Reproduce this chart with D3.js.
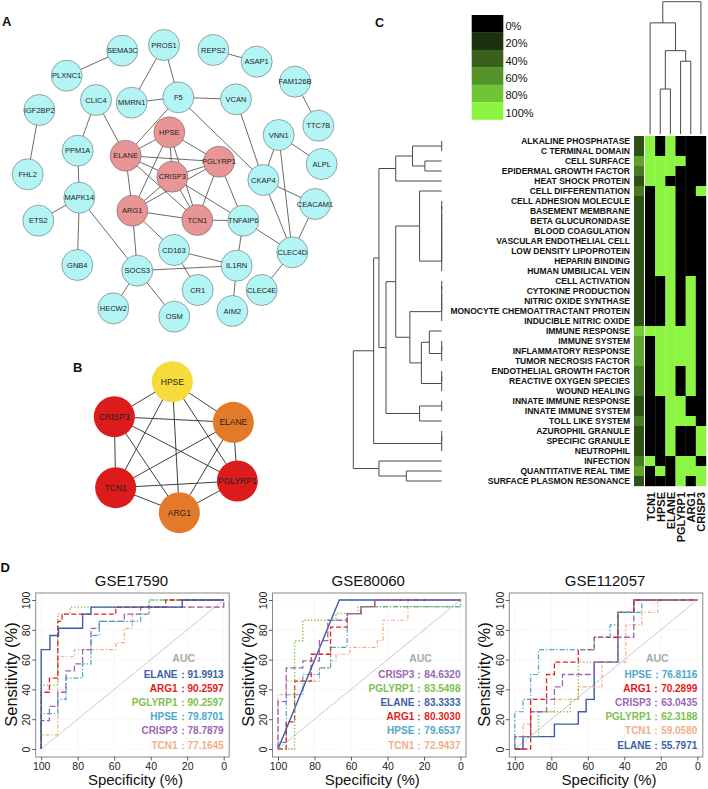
<!DOCTYPE html>
<html><head><meta charset="utf-8">
<script src="https://cdn.jsdelivr.net/npm/d3@7"></script>
<style>body{margin:0;background:#fff}svg{display:block}</style>
</head><body><svg id="fig" width="708" height="789"></svg>
<script>
// ---------------- DATA ----------------
// Panel A network (layout units, 1020 x 1020-ish grid)
const netANodes = ["SEMA3C","PROS1","REPS2","ASAP1","PLXNC1","FAM126B","CLIC4","MMRN1","F5","VCAN","IGF2BP2","TTC7B","HPSE","VNN1","PPM1A","ELANE","PGLYRP1","ALPL","FHL2","CRISP3","CKAP4","MAPK14","CEACAM1","ARG1","ETS2","TCN1","TNFAIP6","CD163","CLEC4D","GNB4","IL1RN","SOCS3","CR1","CLEC4E","HECW2","OSM","AIM2"];
const netALayout = [[367,152],[492,135],[640,150],[770,185],[200,227],[885,245],[288,300],[395,308],[535,292],[708,298],[118,330],[955,377],[508,397],[836,405],[233,452],[377,467],[657,485],[965,492],[83,523],[517,530],[790,540],[238,593],[945,612],[397,632],[115,662],[592,660],[730,662],[522,750],[877,757],[232,795],[710,797],[412,812],[593,870],[785,870],[340,925],[523,950],[697,933]];
const netAHubs = ["HPSE","ELANE","PGLYRP1","CRISP3","ARG1","TCN1"];
const netAEdges = [["SEMA3C","PLXNC1"],["PROS1","MMRN1"],["PROS1","F5"],["REPS2","ASAP1"],["FAM126B","TTC7B"],["IGF2BP2","FHL2"],["CLIC4","PPM1A"],["CLIC4","ELANE"],["MMRN1","F5"],["F5","VCAN"],["F5","ELANE"],["F5","CKAP4"],["VCAN","CKAP4"],["VNN1","CKAP4"],["VNN1","ALPL"],["VNN1","CLEC4D"],["CKAP4","CEACAM1"],["CKAP4","CLEC4D"],["CEACAM1","CLEC4D"],["TNFAIP6","CLEC4D"],["CLEC4D","CLEC4E"],["TNFAIP6","TCN1"],["TNFAIP6","IL1RN"],["TNFAIP6","CRISP3"],["PGLYRP1","TNFAIP6"],["PPM1A","MAPK14"],["MAPK14","ETS2"],["MAPK14","GNB4"],["MAPK14","SOCS3"],["ARG1","SOCS3"],["ARG1","CD163"],["CD163","IL1RN"],["CD163","CR1"],["SOCS3","IL1RN"],["SOCS3","HECW2"],["SOCS3","OSM"],["IL1RN","AIM2"],["HPSE","ELANE"],["HPSE","PGLYRP1"],["HPSE","CRISP3"],["HPSE","ARG1"],["HPSE","TCN1"],["ELANE","PGLYRP1"],["ELANE","CRISP3"],["ELANE","ARG1"],["ELANE","TCN1"],["PGLYRP1","CRISP3"],["PGLYRP1","ARG1"],["PGLYRP1","TCN1"],["CRISP3","ARG1"],["CRISP3","TCN1"],["ARG1","TCN1"]];

// Panel B hub network
const netBNodes = ["HPSE","CRISP3","ELANE","TCN1","PGLYRP1","ARG1"];
const netBLayout = [[517,245],[343,350],[700,367],[347,563],[712,543],[538,638]];
const netBRank = ["low","high","mid","high","high","mid"];
const netBEdges = [["HPSE","CRISP3"],["HPSE","ELANE"],["HPSE","TCN1"],["HPSE","PGLYRP1"],["HPSE","ARG1"],["CRISP3","ELANE"],["CRISP3","TCN1"],["CRISP3","PGLYRP1"],["CRISP3","ARG1"],["ELANE","TCN1"],["ELANE","PGLYRP1"],["ELANE","ARG1"],["TCN1","PGLYRP1"],["TCN1","ARG1"],["PGLYRP1","ARG1"]];

// Panel C heatmap
const heatGenes = ["TCN1","HPSE","ELANE","PGLYRP1","ARG1","CRISP3"];
const heatRows = ["ALKALINE PHOSPHATASE","C TERMINAL DOMAIN","CELL SURFACE","EPIDERMAL GROWTH FACTOR","HEAT SHOCK PROTEIN","CELL DIFFERENTIATION","CELL ADHESION MOLECULE","BASEMENT MEMBRANE","BETA GLUCURONIDASE","BLOOD COAGULATION","VASCULAR ENDOTHELIAL CELL","LOW DENSITY LIPOPROTEIN","HEPARIN BINDING","HUMAN UMBILICAL VEIN","CELL ACTIVATION","CYTOKINE PRODUCTION","NITRIC OXIDE SYNTHASE","MONOCYTE CHEMOATTRACTANT PROTEIN","INDUCIBLE NITRIC OXIDE","IMMUNE RESPONSE","IMMUNE SYSTEM","INFLAMMATORY RESPONSE","TUMOR NECROSIS FACTOR","ENDOTHELIAL GROWTH FACTOR","REACTIVE OXYGEN SPECIES","WOUND HEALING","INNATE IMMUNE RESPONSE","INNATE IMMUNE SYSTEM","TOLL LIKE SYSTEM","AZUROPHIL GRANULE","SPECIFIC GRANULE","NEUTROPHIL","INFECTION","QUANTITATIVE REAL TIME","SURFACE PLASMON RESONANCE"];
const heatMatrix = [
[1,0,1,0,0,0],[1,0,1,0,0,0],[1,1,1,1,0,0],[1,1,1,0,0,0],[1,1,0,0,0,0],[0,1,1,0,0,1],
[0,1,1,0,0,0],[0,1,1,0,0,0],[0,1,1,0,0,0],[0,1,1,0,0,0],[0,1,1,0,0,0],[0,1,1,0,0,0],[0,1,1,0,0,0],[0,1,1,0,0,0],
[0,0,1,0,1,0],[0,0,1,0,1,0],[0,0,1,0,1,0],[0,0,1,0,1,0],[0,0,1,0,1,0],
[1,1,1,1,1,0],[0,1,1,1,1,0],[0,1,1,1,1,0],[0,1,1,1,1,0],
[0,1,1,0,1,0],[0,1,1,0,1,0],[0,1,1,0,1,0],
[0,0,1,1,0,0],[0,0,1,1,0,0],[0,0,1,1,1,0],
[0,0,1,0,0,1],[0,0,1,0,0,1],[0,0,1,0,0,1],
[1,0,0,1,1,0],[0,1,0,1,1,1],[0,0,0,1,0,1]];
const heatShare = [33,33,67,50,33,50,33,33,33,33,33,33,33,33,33,33,33,33,33,83,67,67,67,50,50,50,33,33,50,33,33,33,50,67,33];
const legendLevels = [0,20,40,60,80,100];
// dendrograms: [childA, childB, height]; >=0 leaf index, <0 = earlier merge (-1 -> merge 0)
const rowMerges = [[0,1,0],[2,3,19],[-1,-2,33],[-3,4,52],[6,7,0],[-5,8,0],[-6,9,0],[-7,10,0],[-8,11,0],[-9,12,0],[-10,13,0],[5,-11,25],[14,15,0],[-13,16,0],[-14,17,0],[-15,18,0],[20,21,0],[-17,22,0],[19,-18,14],[23,24,0],[-20,25,0],[-19,-21,23],[-16,-22,36],[-12,-23,52],[26,27,0],[-25,28,25],[-24,-26,63],[-4,-27,71],[29,30,0],[-29,31,0],[-28,-30,77],[33,34,40],[32,-32,71],[-31,-33,100]];
const colMerges = [[1,2,34],[3,4,55],[-1,-2,63],[0,-3,84],[-4,5,100]];

// Panel D ROC curves: [gene, AUC, shape, [[specificity, sensitivity], ...]]
const rocTitles = ["GSE17590","GSE80060","GSE112057"];
const rocGSE17590 = [
 ["ELANE",91.9913,"step",[[100,0],[100,66.7],[95.2,76.2],[90.5,81],[77.3,90.5],[72.7,95.2],[22.7,100],[0,100]]],
 ["ARG1",90.2597,"step",[[100,0],[100,38.1],[95.5,47.6],[90.9,85.7],[88.6,90.5],[59.1,95.2],[31.8,100],[0,100]]],
 ["PGLYRP1",90.2597,"step",[[100,0],[100,42.9],[90.9,90.5],[84.1,95.2],[40.9,100],[0,100]]],
 ["HPSE",79.8701,"step",[[100,0],[100,23.8],[90.9,33.3],[86.4,47.6],[77.3,57.1],[72.7,76.2],[68.2,85.7],[45.5,90.5],[40.9,100],[0,100]]],
 ["CRISP3",78.7879,"step",[[100,0],[100,19],[95.5,28.6],[90.9,38.1],[86.4,52.4],[81.8,57.1],[77.3,66.7],[72.7,81],[68.2,85.7],[54.5,90.5],[45.5,95.2],[0,100]]],
 ["TCN1",77.1645,"step",[[100,0],[100,9.5],[90.9,61.9],[81.8,66.7],[59.1,71.4],[54.5,81],[50,90.5],[40.9,95.2],[0,100]]]];
const rocGSE80060 = [
 ["CRISP3",84.6320,"step",[[100,0],[100,31.8],[95.5,54.5],[86.4,59.1],[77.3,72.7],[72.7,86.4],[62.1,90.9],[54.5,95.5],[47,100],[0,100]]],
 ["PGLYRP1",83.5498,"step",[[100,0],[90.9,72.7],[86.4,86.4],[68.2,90.9],[56.1,95.5],[0,100]]],
 ["ELANE",83.3333,"line",[[100,0],[66.4,100],[0,100]]],
 ["ARG1",80.3030,"step",[[100,0],[95.5,18.2],[90.9,45.5],[81.8,63.6],[71.2,81.8],[62.1,90.9],[54.5,95.5],[47,100],[0,100]]],
 ["HPSE",79.6537,"step",[[100,0],[100,4.5],[95.5,36.4],[86.4,50],[77.3,54.5],[71.2,68.2],[62.1,90.9],[54.5,95.5],[0,100]]],
 ["TCN1",72.9437,"step",[[100,0],[100,36.4],[95.5,45.5],[77.3,54.5],[71.2,59.1],[68.2,63.6],[60.6,68.2],[45.5,72.7],[42.4,86.4],[28.8,100],[0,100]]]];
const rocGSE112057 = [
 ["HPSE",76.8116,"step",[[100,0],[100,25],[95.5,33.3],[91.3,50],[87,66.7],[56.5,75],[47.8,83.3],[43.5,91.7],[30.4,100],[0,100]]],
 ["ARG1",70.2899,"step",[[100,0],[91.3,33.3],[82.6,50],[78.3,58.3],[65.2,66.7],[56.5,75],[43.5,91.7],[34.8,100],[0,100]]],
 ["CRISP3",63.0435,"step",[[100,0],[100,8.3],[91.3,25],[82.6,33.3],[78.3,41.7],[73.9,50],[56.5,58.3],[43.5,75],[34.8,100],[0,100]]],
 ["PGLYRP1",62.3188,"step",[[100,0],[100,8.3],[87,25],[69.6,33.3],[65.2,58.3],[43.5,91.7],[34.8,100],[0,100]]],
 ["TCN1",59.0580,"step",[[100,0],[100,8.3],[95.5,16.7],[91.3,25],[78.3,33.3],[65.2,41.7],[52.2,58.3],[39.1,83.3],[30.4,91.7],[21.7,100],[0,100]]],
 ["ELANE",55.7971,"step",[[100,0],[95.5,8.3],[78.3,16.7],[65.2,25],[60.9,33.3],[56.5,58.3],[43.5,91.7],[34.8,100],[0,100]]]];
const rocSets = [rocGSE17590, rocGSE80060, rocGSE112057];
const rocTicks = [0,20,40,60,80,100];

// ---------------- DRAWING ----------------
const FONT = '"Liberation Sans", Arial, Helvetica, sans-serif';
const svg = d3.select("#fig").style("font-family", FONT);
svg.append("rect").attr("width",708).attr("height",789).attr("fill","#fff");

function panelLabel(t,x,y,s){svg.append("text").attr("x",x).attr("y",y).attr("font-size",s).attr("font-weight","bold").attr("fill","#111").text(t);}
panelLabel("A",2,26,13); panelLabel("B",73,372,13); panelLabel("C",375,27,12.5); panelLabel("D",0.5,572,13);

// ---- Panel A
{
 const x = d3.scaleLinear().domain([0,1020]).range([0,340]);
 const y = d3.scaleLinear().domain([0,900]).range([0,300]);
 const pos = new Map(netANodes.map((n,i)=>[n,netALayout[i]]));
 const g = svg.append("g");
 g.selectAll("line").data(netAEdges).join("line")
  .attr("x1",d=>x(pos.get(d[0])[0])).attr("y1",d=>y(pos.get(d[0])[1]))
  .attr("x2",d=>x(pos.get(d[1])[0])).attr("y2",d=>y(pos.get(d[1])[1]))
  .attr("stroke","#3a3a3a").attr("stroke-width",0.75);
 g.selectAll("circle").data(netANodes).join("circle")
  .attr("cx",d=>x(pos.get(d)[0])).attr("cy",d=>y(pos.get(d)[1])).attr("r",15.5)
  .attr("fill",d=>netAHubs.includes(d)?"#e99595":"#b3f5f5")
  .attr("stroke","#6a6a6a").attr("stroke-width",0.6);
 g.selectAll("text").data(netANodes).join("text")
  .attr("x",d=>x(pos.get(d)[0])).attr("y",d=>y(pos.get(d)[1])).attr("dy","0.35em")
  .attr("text-anchor","middle").attr("font-size",7.5).attr("fill","#222").text(d=>d);
}

// ---- Panel B
{
 const x = d3.scaleLinear().domain([0,1020]).range([0,340]);
 const y = d3.scaleLinear().domain([0,720]).range([300,540]);
 const col = d3.scaleOrdinal().domain(["low","mid","high"]).range(["#f5dc3a","#e37a2a","#dc1c1c"]);
 const pos = new Map(netBNodes.map((n,i)=>[n,netBLayout[i]]));
 const g = svg.append("g");
 g.selectAll("line").data(netBEdges).join("line")
  .attr("x1",d=>x(pos.get(d[0])[0])).attr("y1",d=>y(pos.get(d[0])[1]))
  .attr("x2",d=>x(pos.get(d[1])[0])).attr("y2",d=>y(pos.get(d[1])[1]))
  .attr("stroke","#2a2a2a").attr("stroke-width",0.9);
 g.selectAll("circle").data(netBNodes).join("circle")
  .attr("cx",d=>x(pos.get(d)[0])).attr("cy",d=>y(pos.get(d)[1])).attr("r",20.5)
  .attr("fill",(d,i)=>col(netBRank[i]));
 g.selectAll("text").data(netBNodes).join("text")
  .attr("x",d=>x(pos.get(d)[0])).attr("y",d=>y(pos.get(d)[1])).attr("dy","0.35em")
  .attr("text-anchor","middle").attr("font-size",8.5).attr("fill","#222").text(d=>d);
}

// ---- Panel C
{
 const g = svg.append("g");
 const shade = d3.scaleLinear().domain([0,100]).range(["#000000","#8cf542"]);
 const yr = d3.scaleBand().domain(d3.range(heatRows.length)).range([136,486]);
 const xc = d3.scaleBand().domain(heatGenes).range([645,706]);
 // legend
 const yl = d3.scaleBand().domain(legendLevels).range([15,119.5]);
 g.selectAll(".lg").data(legendLevels).join("rect").attr("x",471.7).attr("width",31.6)
  .attr("y",d=>yl(d)).attr("height",yl.bandwidth()+0.3).attr("fill",d=>shade(d));
 g.selectAll(".lgt").data(legendLevels).join("text").attr("x",505.5)
  .attr("y",d=>yl(d)+yl.bandwidth()/2+6).attr("font-size",11).attr("fill","#111").text(d=>d+"%");
 // annotation column
 g.selectAll(".ann").data(heatShare).join("rect").attr("x",634).attr("width",10)
  .attr("y",(d,i)=>yr(i)).attr("height",yr.bandwidth()+0.2).attr("fill",d=>shade(d));
 // cells
 heatMatrix.forEach((row,i)=>{
  g.selectAll(null).data(row).join("rect")
   .attr("x",(d,j)=>xc(heatGenes[j])).attr("width",xc.bandwidth()+0.2)
   .attr("y",yr(i)).attr("height",yr.bandwidth()+0.2).attr("fill",d=>shade(d*100));
 });
 // row labels
 g.selectAll(".rl").data(heatRows).join("text").attr("x",630)
  .attr("y",(d,i)=>yr(i)+yr.bandwidth()/2).attr("dy","0.36em").attr("text-anchor","end")
  .attr("font-size",8.5).attr("font-weight","bold").attr("fill","#111").text(d=>d);
 // column labels
 g.selectAll(".cl").data(heatGenes).join("text")
  .attr("transform",d=>`translate(${xc(d)+xc.bandwidth()/2+0.5},492) rotate(-90)`)
  .attr("text-anchor","end").attr("dominant-baseline","central")
  .attr("font-size",11).attr("font-weight","bold").attr("fill","#111").text(d=>d);
 // dendrogram helper
 function dendro(merges, leafPos){
  const nodes=[], segs=[];
  const get = r => r>=0 ? {h:0,p:leafPos(r)} : nodes[-r-1];
  merges.forEach(([a,b,h])=>{
   const A=get(a), B=get(b);
   nodes.push({h,p:(A.p+B.p)/2});
   segs.push([[A.h,A.p],[h,A.p],[h,B.p],[B.h,B.p]]);
  });
  return segs;
 }
 const hx = d3.scaleLinear().domain([0,100]).range([441.7,353.3]);
 const rowSegs = dendro(rowMerges, i=>yr(i)+yr.bandwidth()/2);
 const lineR = d3.line().x(d=>hx(d[0])).y(d=>d[1]);
 g.selectAll(".rd").data(rowSegs).join("path").attr("d",lineR)
  .attr("fill","none").attr("stroke","#4a4a4a").attr("stroke-width",1);
 const hy = d3.scaleLinear().domain([0,100]).range([134,1.7]);
 const colSegs = dendro(colMerges, j=>xc(heatGenes[j])+xc.bandwidth()/2);
 const lineC = d3.line().x(d=>d[1]).y(d=>hy(d[0]));
 g.selectAll(".cd").data(colSegs).join("path").attr("d",lineC)
  .attr("fill","none").attr("stroke","#4a4a4a").attr("stroke-width",1);
}

// ---- Panel D
const rocStyle = {
 ELANE:{c:"#3c5ca8",t:"#3e5fa6",dash:null,w:1.4},
 ARG1:{c:"#e4211f",t:"#e31a1c",dash:"5,2.5",w:1.3},
 PGLYRP1:{c:"#7cc350",t:"#7cc24e",dash:"1.3,2",w:1.4},
 HPSE:{c:"#4aa5c9",t:"#4ea7ca",dash:"5,2,1.3,2",w:1.2},
 CRISP3:{c:"#9a64b8",t:"#9966b8",dash:"6,2.5",w:1.3},
 TCN1:{c:"#f5ab88",t:"#f2ae8c",dash:"4,2,1.3,2",w:1.2}
};
rocTitles.forEach((title,k)=>{
 const bx0 = 35.7 + k*236.8, bx1 = bx0 + 193.5, by0 = 593, by1 = 757;
 const x = d3.scaleLinear().domain([100,0]).range([bx0+5.5, bx1-5.5]);
 const y = d3.scaleLinear().domain([0,100]).range([749,600]);
 const g = svg.append("g");
 // grid
 g.selectAll(".gx").data(rocTicks).join("line").attr("x1",d=>x(d)).attr("x2",d=>x(d)).attr("y1",by0).attr("y2",by1)
  .attr("stroke","#e2e2e2").attr("stroke-width",0.7).attr("stroke-dasharray","1,1.5");
 g.selectAll(".gy").data(rocTicks).join("line").attr("y1",d=>y(d)).attr("y2",d=>y(d)).attr("x1",bx0).attr("x2",bx1)
  .attr("stroke","#e2e2e2").attr("stroke-width",0.7).attr("stroke-dasharray","1,1.5");
 // diagonal
 g.append("line").attr("x1",x(100)).attr("y1",y(0)).attr("x2",x(0)).attr("y2",y(100))
  .attr("stroke","#c4c4c4").attr("stroke-width",0.9);
 // curves (draw last legend entry first)
 const curves = rocSets[k];
 curves.slice().reverse().forEach(([gene,auc,shape,pts])=>{
  const st = rocStyle[gene];
  const ln = d3.line().x(d=>x(d[0])).y(d=>y(d[1])).curve(shape==="step"?d3.curveStepAfter:d3.curveLinear);
  g.append("path").attr("d",ln(pts)).attr("fill","none").attr("stroke",st.c)
   .attr("stroke-width",st.w).attr("stroke-dasharray",st.dash);
 });
 // box
 g.append("rect").attr("x",bx0).attr("y",by0).attr("width",bx1-bx0).attr("height",by1-by0)
  .attr("fill","none").attr("stroke","#8a8a8a").attr("stroke-width",1);
 // axes
 const ax = g.append("g").attr("transform",`translate(0,${by1})`)
  .call(d3.axisBottom(x).tickValues(rocTicks).tickSize(3.5).tickSizeOuter(0).tickPadding(2));
 ax.select(".domain").remove();
 ax.selectAll("line").attr("stroke","#333").attr("stroke-width",0.8);
 ax.selectAll("text").attr("font-size",10.5).attr("fill","#222").attr("font-family",FONT);
 const ay = g.append("g").attr("transform",`translate(${bx0},0)`)
  .call(d3.axisLeft(y).tickValues(rocTicks).tickSize(3.5).tickSizeOuter(0));
 ay.select(".domain").remove();
 ay.selectAll("line").attr("stroke","#333").attr("stroke-width",0.8);
 ay.selectAll("text").attr("transform","rotate(-90)").attr("text-anchor","middle")
  .attr("x",0).attr("y",-5.5).attr("dy",0).attr("font-size",10.5).attr("fill","#222").attr("font-family",FONT);
 // titles
 const cx = (bx0+bx1)/2;
 g.append("text").attr("x",cx-1).attr("y",586).attr("text-anchor","middle").attr("font-size",15).attr("fill","#111").text(title);
 g.append("text").attr("x",cx+3).attr("y",785).attr("text-anchor","middle").attr("font-size",15).attr("fill","#111").text("Specificity (%)");
 g.append("text").attr("transform",`translate(${bx0-19},${(y(0)+y(100))/2}) rotate(-90)`)
  .attr("text-anchor","middle").attr("font-size",16.5).attr("fill","#111").text("Sensitivity (%)");
 // AUC legend
 g.append("text").attr("x",x(0)-40).attr("y",662).attr("text-anchor","middle").attr("font-size",10.5)
  .attr("font-weight","bold").attr("fill","#aaaaaa").text("AUC");
 g.selectAll(".auc").data(curves).join("text").attr("x",x(0)).attr("y",(d,i)=>677.5+i*14.2)
  .attr("text-anchor","end").attr("font-size",10).attr("font-weight","bold")
  .attr("fill",d=>rocStyle[d[0]].t).text(d=>`${d[0]}：${d[1].toFixed(4)}`);
});
</script></body></html>
